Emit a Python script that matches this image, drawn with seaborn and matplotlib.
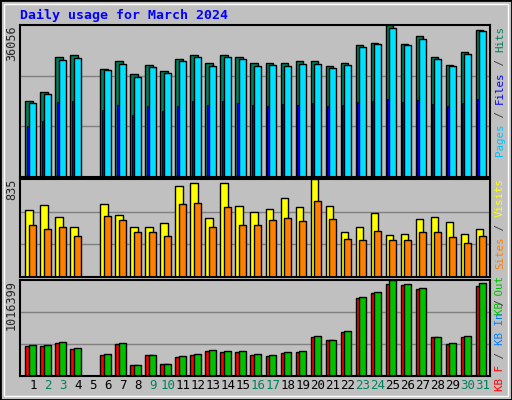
# webalizer style daily usage chart

import matplotlib
matplotlib.use("Agg")
import matplotlib.pyplot as plt
import matplotlib.patches as mpatches
import numpy as np
import pandas as pd
import seaborn as sns

days = list(range(1, 32))
weekend_days = [2, 3, 9, 10, 16, 17, 23, 24, 30, 31]

hits = [18030, 20194, 28367, 28848, 0, 25723, 27406, 24521, 26684, 25242,
        27886, 28848, 26925, 28848, 28367, 26925, 26925, 26925, 27406, 27406,
        26444, 26925, 31252, 31733, 36056, 31492, 33416, 28367, 26684, 29569, 34858]
files = [17500, 19700, 27800, 28300, 0, 25300, 26900, 23700, 26200, 24700,
         27400, 28400, 26300, 28400, 28000, 26400, 26500, 26400, 26900, 26800,
         25900, 26500, 30900, 31500, 35400, 31200, 32800, 28100, 26300, 29200, 34600]
pages = [12020, 13222, 17790, 18030, 0, 15866, 17068, 14664, 16828, 15626,
         16828, 18030, 17068, 18030, 17549, 17000, 16800, 17200, 17100, 17600,
         16900, 17000, 17800, 18100, 18600, 17900, 18200, 17300, 16800, 17500, 18400]

visits = [568, 611, 508, 422, 0, 620, 525, 422, 422, 456,
          775, 801, 499, 801, 603, 551, 577, 671, 594, 835,
          603, 387, 422, 542, 362, 370, 491, 508, 465, 370, 413]
sites = [439, 405, 430, 353, 0, 516, 482, 387, 387, 353,
         620, 628, 430, 594, 439, 439, 482, 499, 473, 646,
         491, 327, 318, 396, 318, 318, 387, 387, 344, 293, 353]

kb_f = [317610, 317610, 349371, 285849, 0, 222327, 338784, 116457, 222327, 127044,
        201153, 222327, 264675, 254088, 254088, 222327, 211740, 243501, 254088, 412893,
        381132, 465828, 825786, 878721, 974004, 963417, 921069, 412893, 338784, 412893, 952830]
kb_out = [328000, 327000, 360000, 296000, 0, 232000, 349000, 117000, 226000, 128000,
          210000, 232000, 275000, 262000, 262000, 230000, 220000, 254000, 262000, 423000,
          381000, 476000, 836000, 889000, 1016399, 975000, 932000, 413000, 345000, 423000, 980000]
kb_in = [5000, 5000, 5000, 5000, 0, 5000, 5000, 5000, 5000, 5000,
         5000, 5000, 5000, 5000, 5000, 5000, 5000, 5000, 5000, 5000,
         5000, 5000, 15000, 15000, 15000, 15000, 15000, 5000, 5000, 5000, 15000]

BG = "#C0C0C0"
MONO = "DejaVu Sans Mono"

sns.set_theme(style="white")
plt.rcParams["font.family"] = [MONO, "DejaVu Sans"]

W, H = 512, 400
fig = plt.figure(figsize=(W / 100, H / 100), dpi=100)
fig.patch.set_facecolor(BG)

# bevelled outer frame
fig.add_artist(mpatches.Rectangle((0, 0), 1, 1, transform=fig.transFigure,
                                  fill=False, edgecolor="black", lw=2))
fig.add_artist(mpatches.Rectangle((4 / W, 4 / H), 1 - 8 / W, 1 - 8 / H,
                                  transform=fig.transFigure, fill=False,
                                  edgecolor="white", lw=1))


def panel(top, bottom):
    x0, x1 = 20, 490
    return fig.add_axes([x0 / W, (H - bottom) / H, (x1 - x0) / W, (bottom - top) / H])


def draw_series(ax, vals, offset, width, color, lw=1.0):
    df = pd.DataFrame({"x": np.array(days) + offset, "y": vals})
    sns.barplot(data=df, x="x", y="y", native_scale=True, width=width,
                color=color, edgecolor="black", linewidth=lw, saturation=1,
                ax=ax)


def style(ax, ymax):
    ax.set_facecolor(BG)
    ax.set_xlim(0.27, 31.6)
    ax.set_ylim(0, ymax)
    for frac in (1 / 3, 2 / 3):
        ax.axhline(ymax * frac, color="#808080", lw=1, zorder=0)
    ax.set_xticks([])
    ax.set_yticks([])
    ax.set_xlabel("")
    ax.set_ylabel("")
    for s in ax.spines.values():
        s.set_color("black")
        s.set_linewidth(1.5)
    ax.text(-0.004, 1.0, str(ymax), transform=ax.transAxes,
            rotation=90, ha="right", va="top", fontsize=8.5, family=MONO)


def side_label(top_px, parts, size=7.8):
    # text reads bottom-to-top; lay pieces out downward from the top
    char_px = size * 0.602 * 100 / 72
    y = top_px
    for text, col in reversed(parts):
        fig.text(500 / W, 1 - y / H, text, rotation=90, ha="center", va="top",
                 fontsize=size, color=col, family=MONO)
        y += len(text) * char_px


ax1 = panel(25, 177)
draw_series(ax1, hits, -0.13, 0.47, "#00805C")
draw_series(ax1, files, 0.13, 0.47, "#00E0FF")
draw_series(ax1, pages, -0.2, 0.13, "#0000FF", lw=0.6)
style(ax1, 36056)
side_label(26, [("Pages", "#00C0FF"), (" / ", "#404040"), ("Files", "#0000FF"),
                (" / ", "#404040"), ("Hits", "#00805C")])

ax2 = panel(179, 277)
draw_series(ax2, visits, -0.13, 0.47, "#FFFF00")
draw_series(ax2, sites, 0.13, 0.47, "#FF8000")
style(ax2, 835)
side_label(178, [("KB Out", "#00C000"), (" ", "#404040"),
                 ("Sites", "#FF8000"), (" / ", "#404040"), ("Visits", "#FFFF00")])

ax3 = panel(280, 376)
draw_series(ax3, kb_f, -0.13, 0.47, "#FF0000")
draw_series(ax3, kb_out, 0.13, 0.47, "#00C000")
draw_series(ax3, kb_in, -0.2, 0.13, "#0080FF", lw=0.4)
style(ax3, 1016399)
side_label(293, [("KB F", "#FF0000"), (" / ", "#404040"), ("KB In", "#0080FF"),
                 (" / ", "#404040")])

for d in days:
    col = "#00805C" if d in weekend_days else "black"
    ax3.text(d + 0.13, -0.1, str(d), transform=ax3.get_xaxis_transform(),
             ha="center", va="center", fontsize=9, color=col, family=MONO)

fig.text(20 / W, 1 - 15 / H, "Daily usage for March 2024", color="#0000FF",
         fontsize=9.5, fontweight="bold", family=MONO, va="center", ha="left")

fig.savefig("out.png", dpi=100, facecolor=BG)
